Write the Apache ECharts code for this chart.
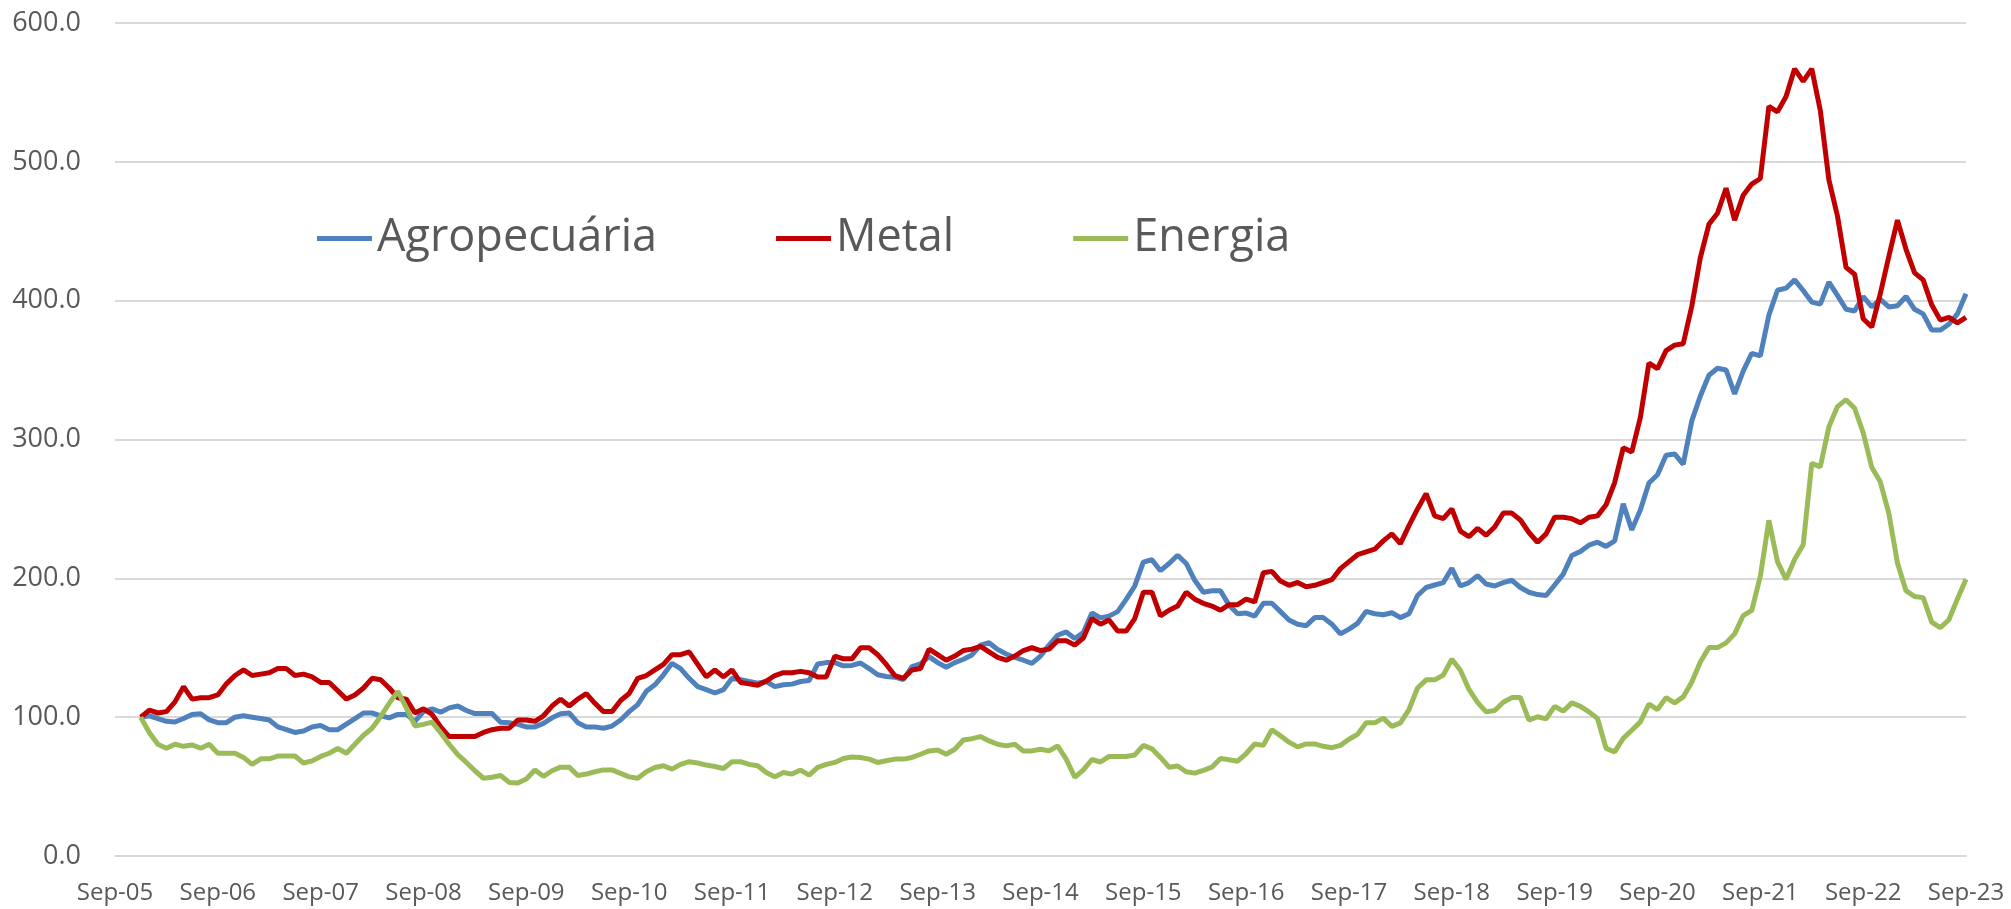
<!DOCTYPE html>
<html>
<head>
<meta charset="utf-8">
<script src="https://cdn.jsdelivr.net/npm/echarts@6/dist/echarts.min.js"></script>
<style>
  html, body { margin: 0; padding: 0; background: #fff; }
  #chart { width: 2011px; height: 909px; }
</style>
</head>
<body>
<div id="chart"></div>
<script>
// eixo x: meses de Sep-05 a Sep-23 (rotulos a cada 12 meses)
const monthNames = ['Jan', 'Feb', 'Mar', 'Apr', 'May', 'Jun', 'Jul', 'Aug', 'Sep', 'Oct', 'Nov', 'Dec'];
const firstYear = 2005, firstMonth = 8, lastYear = 2023, lastMonth = 8;
const yTicks = [0, 100, 200, 300, 400, 500, 600];
// series comecam em Dec-05 (3 meses sem dado)
const leadingGap = 3;

const agropecuaria = [
  100, 101, 99, 97, 96.5, 99, 102, 102.5, 98, 96, 96, 100,
  101, 100, 99, 98, 93, 91, 89, 90, 93, 94, 91, 91,
  95, 99, 103, 103, 101, 99.5, 102, 102, 97, 104, 106, 103.6,
  106.7, 108, 104.8, 102.6, 102.6, 102.6, 96.4, 96, 94.8, 93, 93, 95.5,
  99.5, 102.4, 103, 96, 93, 93, 92, 93.6, 98, 104, 109, 118.6,
  123.3, 130.5, 138.8, 135, 128, 122, 119.8, 117.4, 119.8, 128, 127, 125.7,
  124.5, 125.7, 122, 123.3, 123.8, 125.7, 126.4, 138.3, 139.3, 139.3, 137, 137.3,
  139, 135, 130.5, 129.3, 128.8, 127, 136.4, 138.3, 143.6, 139.3, 136, 139.3,
  141.7, 144.8, 151.9, 153.6, 148.8, 145.5, 143, 141, 138.8, 144, 151.9, 159,
  161.4, 156.7, 161, 175, 171.5, 172.8, 176, 184.8, 194.5, 211.7, 213.4, 205.5,
  210.7, 216.6, 210.7, 198.6, 190, 191, 191, 180.7, 174.5, 175, 172.8, 182,
  182, 176, 170, 166.9, 165.9, 171.7, 171.7, 167, 160, 163.4, 167.6, 176.2,
  174.5, 173.8, 175.2, 171.7, 174.5, 187.6, 193.4, 195.2, 196.9, 207.2, 194.5, 196.9,
  202, 195.9, 194.5, 196.9, 198.6, 193.4, 190, 188.3, 187.6, 195.2, 203, 216.4,
  219.4, 223.9, 226, 223, 226.9, 253.7, 234.9, 249.3, 268.7, 274.6, 288.7, 289.6,
  282.1, 313.4, 331.3, 346.3, 351.3, 350.1, 332.8, 349.3, 362.1, 360.3, 389.6, 407.5,
  409, 415, 407.3, 399, 397.5, 413.4, 403.8, 393.8, 392.6, 403, 395.5, 400.9,
  395.5, 396.3, 403, 393.8, 390.5, 378.8, 378.8, 383, 390.5, 405
];

const metal = [
  100, 105, 103, 104, 111, 122, 113, 114, 114, 116, 124, 130,
  134, 130, 131, 132, 135, 135, 130, 131, 129, 125, 125, 119,
  113, 116, 121, 128, 127, 121, 114, 113, 103, 106, 102, 93,
  86, 86, 86, 86, 89, 91, 92, 92, 98, 98, 97, 101,
  108, 113, 108, 113, 117, 110, 104, 104, 112, 117, 128, 130,
  134, 138, 145, 145, 147, 138, 129, 134, 129, 134, 125, 124,
  123, 126, 130, 132, 132, 133, 132, 129, 129, 144, 142, 142,
  150, 150, 145, 138, 130, 128, 134, 135, 149, 145, 141, 144,
  148, 149, 151, 147, 143, 141, 144, 148, 150, 148, 149, 155,
  155, 152, 157, 171, 167, 170, 162, 162, 171, 190, 190, 173,
  177, 180, 190, 185, 182, 180, 177, 181, 181, 185, 183, 204,
  205, 198, 195, 197, 194, 195, 197, 199, 207, 212, 217, 219,
  221, 227, 232, 225, 238, 250, 261, 245, 243, 250, 234, 230,
  236, 231, 237, 247, 247, 242, 233, 226, 232, 244, 244, 243,
  240, 244, 245, 253, 269, 294, 291, 316, 355, 351, 364, 368,
  369, 396, 431, 455, 463, 481, 458, 476, 484, 488, 540, 536,
  547, 567, 558, 567, 537, 487, 461, 424, 419, 387, 381, 405,
  432, 458, 437, 420, 415, 397, 386, 388, 384, 388
];

const energia = [
  100, 89, 80.5, 77.6, 80.5, 79, 80, 77.6, 80.5, 74, 74, 74,
  71, 66, 70, 70, 72, 72, 72, 67, 68.5, 71.7, 74, 77.4,
  74, 80.5, 87, 92, 100.5, 110, 118.6, 106.7, 93.6, 94.8, 96.4, 88.8,
  80.5, 73, 67.4, 61.4, 56, 56.7, 58, 53, 52.6, 55.5, 62, 57.4,
  61.4, 64, 64, 58, 59, 60.7, 62, 62, 59.5, 57, 56, 60.7,
  63.8, 65, 62.6, 66, 67.9, 67, 65.5, 64.5, 63, 67.9, 67.9, 66,
  65, 60.2, 57, 60.2, 59, 61.9, 58.3, 63.8, 66, 67.4, 70.2, 71.3,
  71, 69.8, 67.4, 68.6, 69.8, 69.8, 71, 73.3, 75.7, 76.4, 73.3, 76.9,
  83.6, 84.5, 86, 82.9, 80.5, 79.3, 80.5, 75.7, 75.7, 76.9, 75.7, 79.3,
  69.8, 56.7, 62, 69.5, 67.7, 71.7, 71.7, 71.7, 72.8, 79.7, 77.2, 71,
  64, 64.8, 60.7, 59.7, 61.7, 64, 70.3, 69.3, 68.3, 73.8, 80.7, 79.7,
  91, 86.6, 82, 78.6, 80.7, 80.7, 79, 78, 79.7, 84.1, 87.6, 95.9,
  95.9, 99.3, 93.4, 95.9, 105.5, 121, 126.9, 126.9, 130.3, 141.7, 133.8, 120,
  110.7, 103.8, 104.8, 110.7, 114.1, 114.1, 97.9, 100.3, 98.8, 107.8, 104.3, 110.3,
  107.8, 103.8, 99, 77.5, 75, 84.7, 90.6, 96.6, 109.4, 105.5, 114.1, 110.3,
  114.6, 125.4, 139.8, 150.1, 150.1, 153.5, 160, 173.2, 177, 201.5, 241.8, 212,
  199.3, 213.6, 224.2, 282.8, 280.3, 309.1, 323.7, 328.7, 322.5, 305, 280, 269.5,
  246.6, 211.1, 191.1, 186.9, 186.1, 168.5, 164.4, 170.2, 185.2, 199.4
];

// monta as categorias mensais
const categories = [];
for (let y = firstYear, m = firstMonth; y < lastYear || (y === lastYear && m <= lastMonth); ) {
  categories.push(monthNames[m] + '-' + String(y).slice(2));
  m++;
  if (m === 12) { m = 0; y++; }
}

function pad(arr) {
  return new Array(leadingGap).fill(null).concat(arr);
}

const chart = echarts.init(document.getElementById('chart'));
chart.setOption({
  animation: false,
  backgroundColor: '#ffffff',
  textStyle: { fontFamily: 'Open Sans' },
  color: ['#4f81bd', '#c00000', '#9bbb59'],
  grid: { left: 115, right: 45, top: 23, bottom: 53, containLabel: false },
  legend: {
    left: 312,
    top: 211,
    icon: 'rect',
    itemWidth: 55,
    itemHeight: 5,
    itemGap: 119,
    textStyle: { fontSize: 45, color: '#595959', fontFamily: 'Open Sans' },
    data: ['Agropecuária', 'Metal', 'Energia']
  },
  xAxis: {
    type: 'category',
    data: categories,
    boundaryGap: false,
    axisLine: { show: true, lineStyle: { color: '#d9d9d9', width: 2 } },
    axisTick: { show: false },
    axisLabel: { interval: 11, fontSize: 24, color: '#595959', margin: 25 },
    splitLine: { show: false }
  },
  yAxis: {
    type: 'value',
    min: yTicks[0],
    max: yTicks[yTicks.length - 1],
    interval: 100,
    axisLine: { show: false },
    axisTick: { show: false },
    axisLabel: {
      fontSize: 27,
      color: '#595959',
      margin: 34,
      formatter: v => v.toFixed(1)
    },
    splitLine: { lineStyle: { color: '#d9d9d9', width: 2 } }
  },
  series: [
    { name: 'Agropecuária', type: 'line', data: pad(agropecuaria), symbol: 'none', lineStyle: { width: 5 } },
    { name: 'Metal', type: 'line', data: pad(metal), symbol: 'none', lineStyle: { width: 5 } },
    { name: 'Energia', type: 'line', data: pad(energia), symbol: 'none', lineStyle: { width: 5 } }
  ]
});
</script>
</body>
</html>
